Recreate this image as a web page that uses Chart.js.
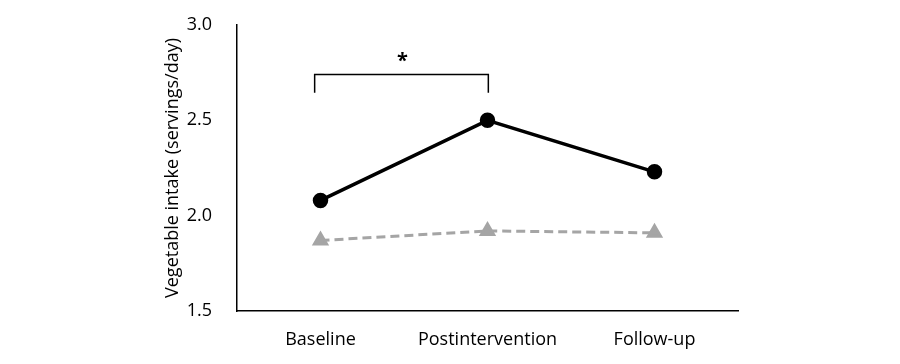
<!DOCTYPE html>
<html>
<head>
<meta charset="utf-8">
<script src="https://cdn.jsdelivr.net/npm/chart.js@4/dist/chart.umd.min.js"></script>
<style>
    html, body { margin: 0; padding: 0; background: #fff; }
    #wrap { width: 900px; height: 364px; }
</style>
</head>
<body>
<div id="wrap"><canvas id="intakeChart" width="900" height="364"></canvas></div>
<script>
const timepoints = ['Baseline', 'Postintervention', 'Follow-up'];
const interventionIntake = [2.08, 2.50, 2.23];
const comparisonIntake = [1.87, 1.92, 1.91];
const yTicks = [1.5, 2.0, 2.5, 3.0];

// significance bracket between Baseline and Postintervention
const bracketX = [-0.035, 1.005];
const bracketY = [2.74, 2.645];
const starPos = { x: 0.49, y: 2.83 };

const FONT = '"Open Sans", "Liberation Sans", sans-serif';

const bracketPlugin = {
    id: 'bracket',
    afterDatasetsDraw(chart) {
        const { ctx, scales: { x, y } } = chart;
        const x1 = x.getPixelForValue(bracketX[0]);
        const x2 = x.getPixelForValue(bracketX[1]);
        const top = y.getPixelForValue(bracketY[0]);
        const bottom = y.getPixelForValue(bracketY[1]);
        ctx.save();
        ctx.strokeStyle = '#000';
        ctx.lineWidth = 1.5;
        ctx.beginPath();
        ctx.moveTo(x1, bottom);
        ctx.lineTo(x1, top);
        ctx.lineTo(x2, top);
        ctx.lineTo(x2, bottom);
        ctx.stroke();
        ctx.fillStyle = '#000';
        ctx.font = 'bold 20px ' + FONT;
        ctx.textAlign = 'center';
        ctx.textBaseline = 'middle';
        ctx.fillText('*', x.getPixelForValue(starPos.x), y.getPixelForValue(starPos.y) + 4);
        ctx.restore();
    }
};

const ctx = document.getElementById('intakeChart').getContext('2d');
new Chart(ctx, {
    type: 'line',
    data: {
        labels: timepoints,
        datasets: [
            {
                label: 'Intervention',
                data: interventionIntake,
                borderColor: '#000',
                backgroundColor: '#000',
                borderWidth: 3.5,
                pointRadius: 6,
                pointStyle: 'circle',
                tension: 0,
            },
            {
                label: 'Comparison',
                data: comparisonIntake,
                borderColor: '#a5a5a5',
                backgroundColor: '#a5a5a5',
                borderWidth: 3,
                borderDash: [9, 5],
                pointRadius: 7,
                pointStyle: 'triangle',
                tension: 0,
            },
        ],
    },
    options: {
        responsive: false,
        animation: false,
        layout: {
            padding: { left: 162, right: 162, top: 25, bottom: 0 },
        },
        plugins: {
            legend: { display: false },
            tooltip: { enabled: false },
        },
        scales: {
            x: {
                offset: true,
                grid: { display: false, drawTicks: false },
                border: { display: true, color: '#000', width: 1.5 },
                ticks: {
                    color: '#000',
                    padding: 18,
                    font: { family: FONT, size: 18 },
                },
                afterFit: (scale) => { scale.height = 53; },
            },
            y: {
                min: 1.5,
                max: 3.0,
                grid: { display: false, drawTicks: false },
                border: { display: true, color: '#000', width: 1.5 },
                afterBuildTicks: (scale) => {
                    scale.ticks = yTicks.map(v => ({ value: v }));
                },
                ticks: {
                    color: '#000',
                    padding: 25,
                    font: { family: FONT, size: 18 },
                    callback: (v) => Number(v).toFixed(1),
                },
                title: {
                    display: true,
                    text: 'Vegetable intake (servings/day)',
                    color: '#000',
                    padding: 0,
                    font: { family: FONT, size: 18 },
                },
                afterFit: (scale) => {
                    scale.width = 75;
                    scale.paddingTop = 10;
                    scale.paddingBottom = 10;
                },
            },
        },
    },
    plugins: [bracketPlugin],
});
</script>
</body>
</html>
